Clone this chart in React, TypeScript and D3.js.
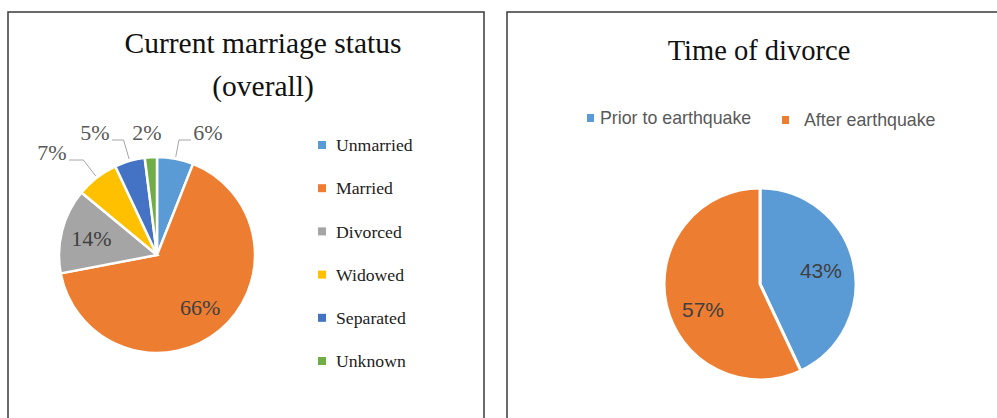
import React from "react";
import * as d3 from "d3";

const statusCategories = ["Unmarried", "Married", "Divorced", "Widowed", "Separated", "Unknown"];
const statusValues = [6, 66, 14, 7, 5, 2];
const statusColors = ["#5B9BD5", "#ED7D31", "#A5A5A5", "#FFC000", "#4472C4", "#70AD47"];
// label placement: "in" = inside along mid-angle, otherwise outside with layout offset
const statusLabelPlacement = ["out", "in", "in", "out", "out", "out"];
const statusOuterOffsets: [number, number][] = [[51, -123], [0, 0], [0, 0], [-105, -103], [-62, -123], [-10, -123]];

const divorceCategories = ["Prior to earthquake", "After earthquake"];
const divorceValues = [43, 57];
const divorceColors = ["#5B9BD5", "#ED7D31"];

const W = 997;
const H = 418;

function LeftPanel() {
  const cx = 157, cy = 255, r = 98;
  const pie = d3.pie<number>().sort(null).value((d) => d)(statusValues);
  const arc = d3.arc<d3.PieArcDatum<number>>().innerRadius(0).outerRadius(r);
  const total = d3.sum(statusValues);
  const fmt = (v: number) => `${Math.round((v / total) * 100)}%`;
  const legendY = d3.scalePoint<string>().domain(statusCategories).range([145, 361]);
  return (
    <g>
      <rect x={8} y={12} width={476} height={420} fill="#fff" stroke="#3a3a3a" strokeWidth={1.5} />
      <text x={263} y={53} textAnchor="middle" fontFamily="'Liberation Serif', serif" fontSize={29.5} fill="#111">
        Current marriage status
      </text>
      <text x={263} y={96} textAnchor="middle" fontFamily="'Liberation Serif', serif" fontSize={29.5} fill="#111">
        (overall)
      </text>
      <g transform={`translate(${cx},${cy})`}>
        {pie.map((p, i) => (
          <path key={i} d={arc(p) || ""} fill={statusColors[i]} stroke="#fff" strokeWidth={2.5} />
        ))}
        {pie.map((p, i) => {
          const mid = (p.startAngle + p.endAngle) / 2;
          if (statusLabelPlacement[i] === "in") {
            const rr = r * 0.69;
            return (
              <text key={"l" + i} x={Math.sin(mid) * rr} y={-Math.cos(mid) * rr} dy="0.35em" textAnchor="middle"
                fontFamily="'Liberation Serif', serif" fontSize={22} fill="#404040">
                {fmt(p.value)}
              </text>
            );
          }
          const [lx, ly] = statusOuterOffsets[i];
          const ax = Math.sin(mid) * (r + 2), ay = -Math.cos(mid) * (r + 2);
          const ey = ly + 8;
          const ex = Math.tan(mid) * -ey;
          const halfW = 15;
          const edge = lx > ex ? lx - halfW - 2 : lx + halfW + 2;
          const showLeader = Math.abs(ex - lx) > halfW + 4;
          return (
            <g key={"l" + i}>
              {showLeader && (
                <polyline points={`${ax},${ay} ${ex},${ey} ${edge},${ey}`} fill="none" stroke="#a6a6a6" strokeWidth={1} />
              )}
              <text x={lx} y={ly} dy="0.35em" textAnchor="middle" fontFamily="'Liberation Serif', serif" fontSize={22} fill="#595959">
                {fmt(p.value)}
              </text>
            </g>
          );
        })}
      </g>
      {statusCategories.map((c, i) => (
        <g key={c} transform={`translate(318,${legendY(c)})`}>
          <rect x={0} y={-4} width={8} height={8} fill={statusColors[i]} />
          <text x={18} y={0} dy="0.35em" fontFamily="'Liberation Serif', serif" fontSize={17.7} fill="#222">
            {c}
          </text>
        </g>
      ))}
    </g>
  );
}

function RightPanel() {
  const cx = 760, cy = 284, r = 96;
  const pie = d3.pie<number>().sort(null).value((d) => d)(divorceValues);
  const arc = d3.arc<d3.PieArcDatum<number>>().innerRadius(0).outerRadius(r);
  const total = d3.sum(divorceValues);
  const legendX = [587, 782];
  return (
    <g>
      <rect x={507} y={12} width={500} height={420} fill="#fff" stroke="#3a3a3a" strokeWidth={1.5} />
      <text x={759} y={60} textAnchor="middle" fontFamily="'Liberation Serif', serif" fontSize={28.5} fill="#111">
        Time of divorce
      </text>
      {divorceCategories.map((c, i) => (
        <g key={c} transform={`translate(${legendX[i]},${118 + i * 2})`}>
          <rect x={0} y={-4} width={7} height={8} fill={divorceColors[i]} />
          <text x={i === 0 ? 13 : 22} y={0} dy="0.35em" fontFamily="'Liberation Sans', sans-serif" fontSize={17.8} fill="#595959">
            {c}
          </text>
        </g>
      ))}
      <g transform={`translate(${cx},${cy})`}>
        {pie.map((p, i) => (
          <path key={i} d={arc(p) || ""} fill={divorceColors[i]} stroke="#fff" strokeWidth={3} />
        ))}
        {pie.map((p, i) => {
          const mid = (p.startAngle + p.endAngle) / 2 - (i === 1 ? 0.2 : 0);
          const rr = r * 0.65;
          return (
            <text key={"l" + i} x={Math.sin(mid) * rr} y={-Math.cos(mid) * rr} dy="0.35em" textAnchor="middle"
              fontFamily="'Liberation Sans', sans-serif" fontSize={21} fill="#404040">
              {`${Math.round((p.value / total) * 100)}%`}
            </text>
          );
        })}
      </g>
    </g>
  );
}

export default function App() {
  return (
    <svg width={W} height={H} style={{ position: "absolute", left: 0, top: 0, display: "block", background: "#fff" }}>
      <rect x={0} y={0} width={W} height={H} fill="#fff" />
      <LeftPanel />
      <RightPanel />
    </svg>
  );
}
